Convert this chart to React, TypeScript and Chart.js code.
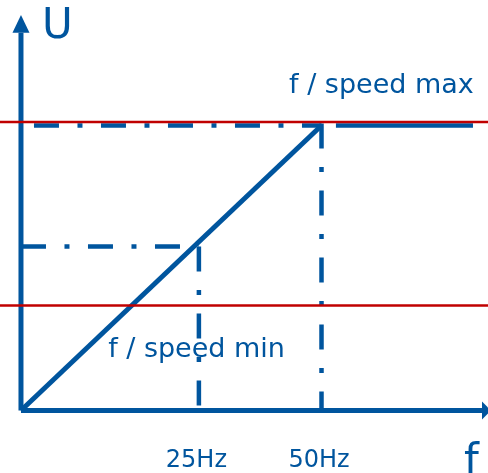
import React, { useEffect, useRef } from "react";
import { Chart, registerables } from "chart.js";

Chart.register(...registerables);

// ---- data (frequency f in Hz-like units, voltage U in % of max) ----
const X_RANGE = [-3.49, 77.7];
const Y_RANGE = [-21.93, 144.03];

const diagonalF = [0, 50];
const diagonalU = [0, 100];
const plateauF = [52.4, 75.2];
const plateauU = [100, 100];

const minPointF = 29.6; // "25Hz" marker
const minPointU = 57.5;
const maxPointF = 50; // "50Hz" marker
const maxPointU = 100;

const speedMaxLevel = 101.2;
const speedMinLevel = 36.8;

const yAxisTop = 132.5;
const yAxisTip = 138.8;
const xAxisEnd = 76.7;
const xAxisTip = 78.2;

const tickValues = [minPointF, maxPointF];
const tickLabels = ["25Hz", "50Hz"];

const BLUE = "#00559E";
const RED = "#C00000";
const FONT = "'DejaVu Sans', Verdana, sans-serif";

const pts = (xs: number[], ys: number[]) => xs.map((x, i) => ({ x, y: ys[i] }));

const decorPlugin = {
  id: "decor",
  afterDatasetsDraw(chart: any) {
    const ctx = chart.ctx;
    const xs = chart.scales.x;
    const ys = chart.scales.y;
    const px = (v: number) => xs.getPixelForValue(v);
    const py = (v: number) => ys.getPixelForValue(v);
    ctx.save();
    ctx.fillStyle = BLUE;
    // y-axis arrow head
    ctx.beginPath();
    ctx.moveTo(px(0), py(yAxisTip));
    ctx.lineTo(px(0) - 8.5, py(yAxisTop));
    ctx.lineTo(px(0) + 8.5, py(yAxisTop));
    ctx.closePath();
    ctx.fill();
    // x-axis arrow head
    ctx.beginPath();
    ctx.moveTo(px(xAxisTip), py(0));
    ctx.lineTo(px(xAxisEnd), py(0) - 9);
    ctx.lineTo(px(xAxisEnd), py(0) + 9);
    ctx.closePath();
    ctx.fill();

    ctx.textBaseline = "alphabetic";
    ctx.textAlign = "left";
    ctx.font = `42px ${FONT}`;
    ctx.fillText("U", px(3.5), py(130.6));
    ctx.fillText("f", px(73.7), py(-22.3));

    ctx.font = `27px ${FONT}`;
    ctx.fillText("f / speed max", px(44.6), py(111.4));
    ctx.fillText("f / speed min", px(14.5), py(18.8));

    ctx.font = `24px ${FONT}`;
    ctx.textAlign = "center";
    tickValues.forEach((v, i) => {
      ctx.fillText(tickLabels[i], px(v) - 2.5, py(-19.8));
    });
    ctx.restore();
  },
};

export default function App() {
  const ref = useRef<HTMLCanvasElement | null>(null);
  useEffect(() => {
    if (!ref.current) return;
    const dash = [25, 18.5, 5, 18.5];
    const chart = new Chart(ref.current, {
      type: "line",
      data: {
        datasets: [
          {
            data: pts([X_RANGE[0], X_RANGE[1]], [speedMaxLevel, speedMaxLevel]),
            borderColor: RED,
            borderWidth: 2.5,
          },
          {
            data: pts([X_RANGE[0], X_RANGE[1]], [speedMinLevel, speedMinLevel]),
            borderColor: RED,
            borderWidth: 2.5,
          },
          {
            data: pts(diagonalF, diagonalU),
            borderColor: BLUE,
            borderWidth: 5,
          },
          {
            data: pts(plateauF, plateauU),
            borderColor: BLUE,
            borderWidth: 4.5,
          },
          {
            data: pts([0, maxPointF], [maxPointU, maxPointU]),
            borderColor: BLUE,
            borderWidth: 4.5,
            borderDash: dash,
            borderDashOffset: 54,
          },
          {
            data: pts([maxPointF, maxPointF], [maxPointU + 0.7, 0]),
            borderColor: BLUE,
            borderWidth: 4.5,
            borderDash: dash,
          },
          {
            data: pts([0, minPointF], [minPointU, minPointU]),
            borderColor: BLUE,
            borderWidth: 4.5,
            borderDash: dash,
          },
          {
            data: pts([minPointF, minPointF], [minPointU, 0]),
            borderColor: BLUE,
            borderWidth: 4.5,
            borderDash: dash,
          },
          {
            data: pts([0, 0], [0, yAxisTop]),
            borderColor: BLUE,
            borderWidth: 5,
          },
          {
            data: pts([0, xAxisEnd], [0, 0]),
            borderColor: BLUE,
            borderWidth: 5,
          },
        ].map((d) => ({
          ...d,
          pointRadius: 0,
          pointHoverRadius: 0,
          fill: false,
          tension: 0,
          clip: false as any,
        })),
      },
      options: {
        animation: false,
        responsive: false,
        devicePixelRatio: 1,
        events: [],
        layout: { padding: 0, autoPadding: false },
        plugins: {
          legend: { display: false },
          tooltip: { enabled: false },
          title: { display: false },
        },
        scales: {
          x: { type: "linear", min: X_RANGE[0], max: X_RANGE[1], display: false },
          y: { type: "linear", min: Y_RANGE[0], max: Y_RANGE[1], display: false },
        },
      },
      plugins: [decorPlugin],
    });
    return () => chart.destroy();
  }, []);
  return (
    <div style={{ position: "fixed", left: 0, top: 0, width: 488, height: 473, background: "#fff" }}>
      <canvas ref={ref} width={488} height={473} style={{ display: "block" }} />
    </div>
  );
}
